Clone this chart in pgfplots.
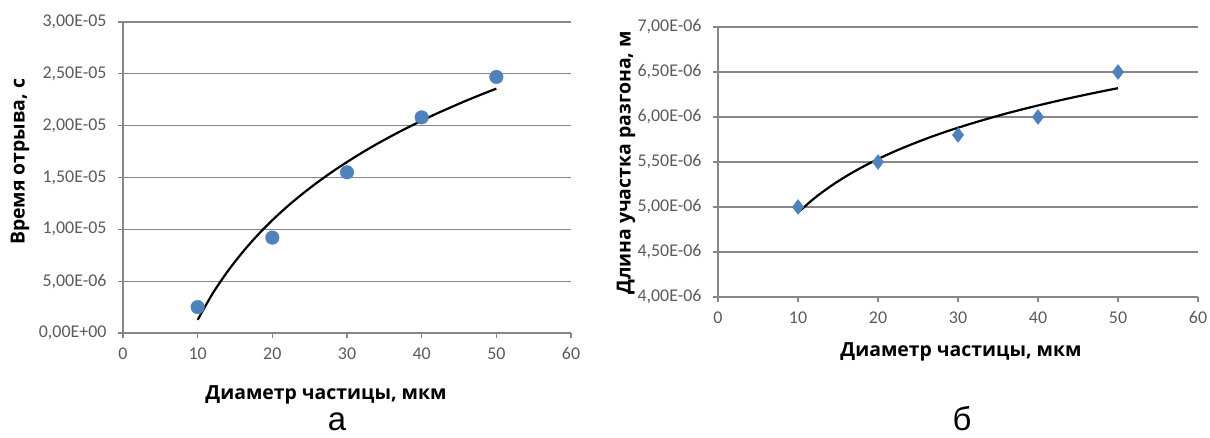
\documentclass[border=0pt]{standalone}
\usepackage{pgfplots}
\pgfplotsset{compat=1.18}
\usepackage{fontspec}
\setmainfont{Open Sans}
\newfontfamily\arialfont{Liberation Sans}
\newfontfamily\tickfont{Carlito}
\definecolor{axgray}{HTML}{878787}
\definecolor{labgray}{HTML}{5A5A5A}
\definecolor{markblue}{HTML}{4F81BD}
\begin{document}
\begin{tikzpicture}[x=1bp,y=1bp]
\useasboundingbox (0,0) rectangle (1210,438);
\pgfplotsset{mystyle/.style={scale only axis, axis lines=left,
  axis line style={-, draw=axgray, line width=1.2bp},
  ymajorgrids, grid style={draw=axgray, line width=1.2bp},
  tick style={draw=axgray, line width=1.2bp}, tick align=outside, major tick length=5bp,
  scaled y ticks=false,
  xmin=0, xmax=60, xtick={0,10,20,30,40,50,60}, xticklabels={0,10,20,30,40,50,60},
  tick label style={font=\tickfont\fontsize{18}{18}\selectfont, text=labgray},
  xticklabel style={yshift=-6bp}, yticklabel style={xshift=-8bp},
  clip=false}}
\begin{axis}[mystyle, at={(123bp,105bp)}, anchor=south west, width=448bp, height=311bp,
  ymin=0, ymax=3e-5, ytick={0,5e-6,1e-5,1.5e-5,2e-5,2.5e-5,3e-5},
  yticklabels={{0,00E+00},{5,00E-06},{1,00E-05},{1,50E-05},{2,00E-05},{2,50E-05},{3,00E-05}}]
\addplot[only marks, mark=*, mark size=6.8bp, color=markblue] coordinates {(10,2.5e-6)(20,9.2e-6)(30,1.55e-5)(40,2.08e-5)(50,2.47e-5)};
\addplot[black, line width=2.2bp, smooth, no marks] coordinates {(10,1.27e-6)(12,3.80e-6)(14,5.93e-6)(16,7.78e-6)(18,9.42e-6)(20,10.88e-6)(22,12.20e-6)(24,13.40e-6)(26,14.51e-6)(28,15.54e-6)(30,16.49e-6)(32,17.39e-6)(34,18.23e-6)(36,19.02e-6)(38,19.77e-6)(40,20.48e-6)(42,21.16e-6)(44,21.80e-6)(46,22.42e-6)(48,23.01e-6)(50,23.57e-6)};
\end{axis}
\begin{axis}[mystyle, at={(718bp,141bp)}, anchor=south west, width=480bp, height=270bp,
  ymin=4e-6, ymax=7e-6, ytick={4e-6,4.5e-6,5e-6,5.5e-6,6e-6,6.5e-6,7e-6},
  yticklabels={{4,00E-06},{4,50E-06},{5,00E-06},{5,50E-06},{6,00E-06},{6,50E-06},{7,00E-06}}]
\addplot[only marks, mark=diamond*, mark size=7.5bp, color=markblue] coordinates {(10,5.0e-6)(20,5.5e-6)(30,5.8e-6)(40,6.0e-6)(50,6.5e-6)};
\addplot[black, line width=2.2bp, smooth, no marks] coordinates {(10,4.938e-6)(12,5.094e-6)(14,5.226e-6)(16,5.341e-6)(18,5.442e-6)(20,5.533e-6)(22,5.615e-6)(24,5.689e-6)(26,5.758e-6)(28,5.822e-6)(30,5.881e-6)(32,5.936e-6)(34,5.988e-6)(36,6.038e-6)(38,6.084e-6)(40,6.128e-6)(42,6.170e-6)(44,6.210e-6)(46,6.248e-6)(48,6.285e-6)(50,6.320e-6)};
\end{axis}
\node[rotate=90, font=\bfseries\fontsize{19.5}{19.5}\selectfont] at (20bp,276bp) {Время отрыва, с};
\node[font=\bfseries\fontsize{19.5}{19.5}\selectfont] at (326bp,43bp) {Диаметр частицы, мкм};
\node[rotate=90, font=\bfseries\fontsize{19.5}{19.5}\selectfont] at (626bp,275bp) {Длина участка разгона, м};
\node[font=\bfseries\fontsize{19.5}{19.5}\selectfont] at (961bp,86bp) {Диаметр частицы, мкм};
\node[font=\arialfont\fontsize{33}{33}\selectfont, anchor=base, inner sep=0pt] at (337bp,7bp) {а};
\node[font=\arialfont\fontsize{33}{33}\selectfont, anchor=base, inner sep=0pt] at (962bp,7bp) {б};
\end{tikzpicture}
\end{document}
